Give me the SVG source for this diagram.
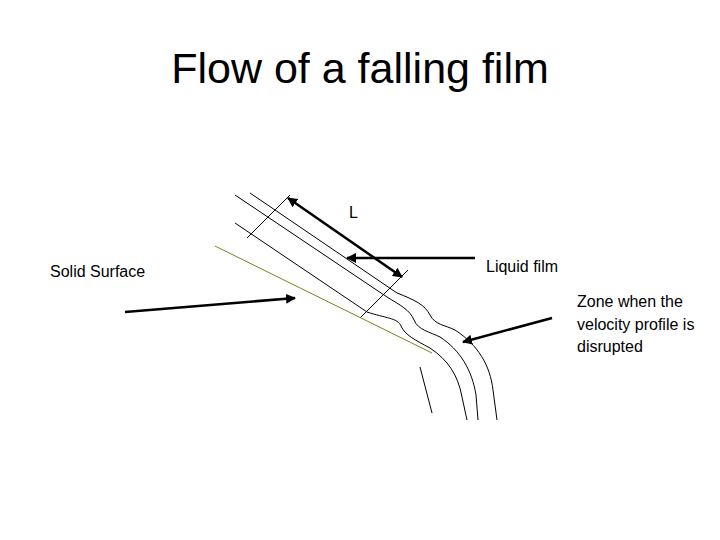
<svg xmlns="http://www.w3.org/2000/svg" width="720" height="540" viewBox="0 0 720 540">
<defs><marker id="ah" viewBox="0 0 10 10" refX="9" refY="5" markerWidth="4" markerHeight="4" orient="auto-start-reverse"><path d="M0,0L10,5L0,10z" fill="#000"/></marker></defs>
<style>text{font-family:"Liberation Sans",Arial,sans-serif;fill:#000}.t{stroke:#000;stroke-width:1;fill:none}.a{stroke:#000;stroke-width:2.5;fill:none;marker-end:url(#ah)}</style>
<rect width="720" height="540" fill="#fff"/>
<text x="360" y="83" font-size="43" text-anchor="middle">Flow of a falling film</text>
<g id="film">
<path class="t" d="M250,193L397,293C415,300 425,305 430,315C435,325 445,325 455,330C478,345 490,365 493,390L497,420"/>
<path class="t" d="M235,195L387,297C400,305 410,310 414,320C418,330 430,332 440,337C460,350 472,370 476,395L478,420"/>
<path class="t" d="M235,223L367,312C385,318 398,318 401,326C405,335 415,340 430,348C448,360 458,375 462,397L467,420"/>
<path class="t" d="M420,367L432,413"/>
<path class="t" d="M247,238L290,195M360,318L408,270"/>
</g>
<g id="surface"><path d="M215,246L432,353" stroke="#808020" stroke-width="1" fill="none"/></g>
<g id="connectors">
<path class="a" d="M288,198L402,277" style="marker-start:url(#ah)"/>
<path class="a" d="M475,258L347,258"/>
<path class="a" d="M125,312L295,298"/>
<path class="a" d="M552,318L463,342"/>
</g>
<g id="labels">
<text x="349" y="218" font-size="16">L</text>
<text x="50" y="277" font-size="16">Solid Surface</text>
<text x="486" y="272" font-size="16">Liquid film</text>
<text x="577" y="307" font-size="16">Zone when the</text>
<text x="577" y="330" font-size="16">velocity profile is</text>
<text x="577" y="352" font-size="16">disrupted</text>
</g>
</svg>
